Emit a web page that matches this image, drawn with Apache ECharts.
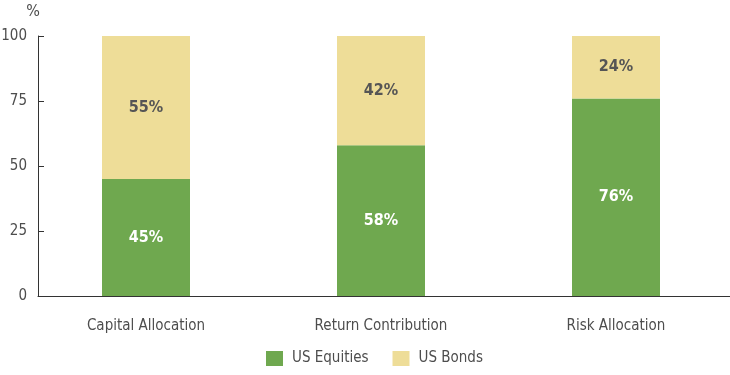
<!DOCTYPE html>
<html>
<head>
<meta charset="utf-8">
<script src="https://cdn.jsdelivr.net/npm/echarts@6/dist/echarts.min.js"></script>
<style>
  html, body { margin: 0; padding: 0; background: #fff; }
  #main { width: 730px; height: 375px; }
</style>
</head>
<body>
<div id="main"></div>
<script>
// chart data
const categories = ["Capital Allocation", "Return Contribution", "Risk Allocation"];
const equities = [45, 58, 76];
const bonds = [55, 42, 24];
const yTicks = [0, 25, 50, 75, 100];

const FONT = '"Liberation Sans Narrow", "DejaVu Sans Condensed", "Open Sans", sans-serif';
const TEXT = "#4d4d4d";

var chartDom = document.getElementById("main");
var myChart = echarts.init(chartDom);

var option = {
  animation: false,
  textStyle: { fontFamily: FONT },
  legend: {
    top: 351,
    left: 266,
    padding: 0,
    itemWidth: 17,
    itemHeight: 15,
    itemGap: 24,
    icon: "rect",
    textStyle: { fontSize: 15, color: TEXT, fontFamily: FONT, padding: [0, 0, 0, 4] },
    data: ["US Equities", "US Bonds"],
  },
  grid: [
    // axis frame
    { left: 38, right: 0, top: 36, bottom: 79, outerBoundsMode: "none" },
    // bars
    { left: 28.5, right: -3.5, top: 36, bottom: 79, outerBoundsMode: "none" },
  ],
  xAxis: [
    {
      gridIndex: 0,
      type: "value",
      min: 0,
      max: 1,
      axisLine: { show: true, lineStyle: { color: "#333", width: 1 } },
      axisTick: { show: false },
      axisLabel: { show: false },
      splitLine: { show: false },
    },
    {
      gridIndex: 1,
      type: "category",
      data: categories,
      axisLine: { show: false },
      axisTick: { show: false },
      axisLabel: { margin: 23, fontSize: 15, color: TEXT, fontFamily: FONT },
    },
  ],
  yAxis: [
    {
      gridIndex: 0,
      type: "value",
      min: yTicks[0],
      max: yTicks[yTicks.length - 1],
      interval: 25,
      name: "%",
      nameGap: 16,
      nameTextStyle: { fontSize: 16, color: TEXT, align: "center", padding: [0, 10, 0, 0] },
      axisLine: { show: true, lineStyle: { color: "#333", width: 1 } },
      axisTick: { show: true, inside: true, length: 6, lineStyle: { color: "#333" } },
      axisLabel: { fontSize: 15, color: TEXT, margin: 11 },
      splitLine: { show: false },
    },
    {
      gridIndex: 1,
      type: "value",
      min: 0,
      max: 100,
      show: false,
    },
  ],
  series: [
    {
      name: "US Equities",
      type: "bar",
      stack: "total",
      xAxisIndex: 1,
      yAxisIndex: 1,
      barWidth: 88,
      data: equities,
      itemStyle: { color: "#6fa84f" },
      label: {
        show: true,
        position: "inside",
        formatter: "{c}%",
        color: "#fff",
        fontSize: 16,
        fontWeight: "bold",
        fontFamily: FONT,
      },
    },
    {
      name: "US Bonds",
      type: "bar",
      stack: "total",
      xAxisIndex: 1,
      yAxisIndex: 1,
      barWidth: 88,
      data: bonds,
      itemStyle: { color: "#eedd98" },
      label: {
        show: true,
        position: "inside",
        formatter: "{c}%",
        color: "#555",
        fontSize: 16,
        fontWeight: "bold",
        fontFamily: FONT,
      },
    },
  ],
};

myChart.setOption(option);
</script>
</body>
</html>
